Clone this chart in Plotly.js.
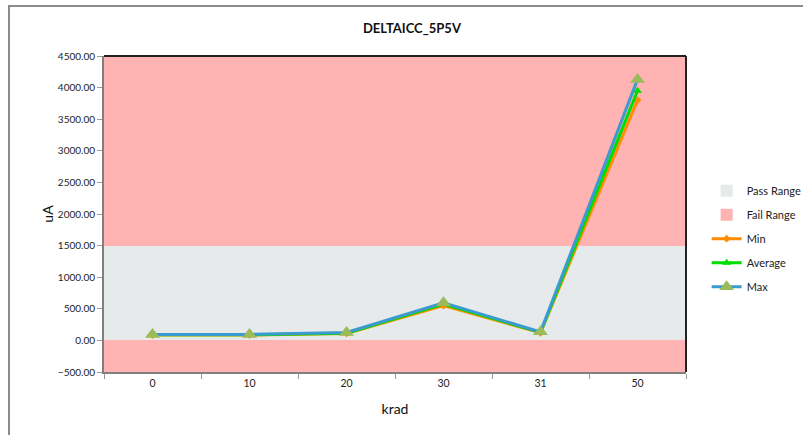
<!DOCTYPE html>
<html>
<head>
<meta charset="utf-8">
<script src="https://cdn.plot.ly/plotly-3.0.1.min.js"></script>
<style>
  html, body { margin: 0; padding: 0; background: #fff; }
  #wrap { position: relative; width: 803px; height: 435px; overflow: hidden; }
  #frame { position: absolute; left: 8px; top: 5px; width: 800px; height: 440px;
           border-top: 2px solid #8c8c8c; border-left: 2px solid #8c8c8c; pointer-events: none; z-index: 5; }
  #chart { position: absolute; left: 0; top: 0; width: 803px; height: 435px; }
</style>
</head>
<body>
<div id="wrap">
  <div id="chart"></div>
  <div id="frame"></div>
</div>
<script>
// Data
const categories = ['0', '10', '20', '30', '31', '50'];
const minValues = [85, 85, 110, 550, 120, 3800];
const avgValues = [90, 90, 115, 575, 125, 3950];
const maxValues = [95, 95, 125, 595, 135, 4130];

// Limit bands
const passLow = 0, passHigh = 1500;
const failLowBase = -500, failLowTop = 0;
const failHighBase = 1500, failHighTop = 4500;

const font = 'Lato, "Open Sans", "Liberation Sans", sans-serif';

function band(name, base, top, color, showlegend) {
  return {
    type: 'bar', name: name, x: categories,
    y: categories.map(() => top - base),
    base: categories.map(() => base),
    width: categories.map(() => 1),
    marker: { color: color, line: { width: 0 } },
    legendgroup: name, showlegend: showlegend, hoverinfo: 'skip'
  };
}

const traces = [
  band('Pass Range', passLow, passHigh, '#E6EAEA', true),
  band('Fail Range', failHighBase, failHighTop, '#FFB3B3', true),
  band('Fail Range', failLowBase, failLowTop, '#FFB3B3', false),
  { type: 'scatter', mode: 'lines+markers', name: 'Min', x: categories, y: minValues, legendgroup: 'min',
    line: { color: '#FF8C00', width: 3 }, marker: { symbol: 'diamond', size: 6, color: '#FF8C00' } },
  { type: 'scatter', mode: 'lines+markers', name: 'Average', x: categories, y: avgValues, legendgroup: 'avg',
    line: { color: '#00DD00', width: 3 }, marker: { symbol: 'triangle-up', size: 8, color: '#00DD00' } },
  { type: 'scatter', mode: 'lines+markers', name: 'Max', x: categories, y: maxValues, legendgroup: 'max',
    line: { color: '#3C9AD0', width: 3 }, marker: { symbol: 'triangle-up', size: 13, color: '#9BBB59' } }
];

const layout = {
  width: 803, height: 435,
  margin: { l: 104, r: 117, t: 56, b: 63 },
  paper_bgcolor: '#ffffff', plot_bgcolor: '#ffffff',
  font: { family: font, size: 11, color: '#222' },
  barmode: 'overlay', bargap: 0,
  title: { text: '<b>DELTAICC_5P5V</b>', x: 0.513, xanchor: 'center', y: 0.935, yanchor: 'middle',
           font: { family: font, size: 13, color: '#111' } },
  xaxis: {
    type: 'category', range: [-0.5, 5.5],
    title: { text: 'krad', font: { family: font, size: 14, color: '#111' }, standoff: 17 },
    showline: true, linecolor: '#7f7f7f', linewidth: 2,
    ticks: 'outside', tickson: 'boundaries', ticklen: 5, tickcolor: '#9a9a9a', tickwidth: 1,
    showgrid: false, zeroline: false, tickfont: { size: 10.5, color: '#222' }
  },
  yaxis: {
    range: [-500, 4500], dtick: 500, tick0: 0, tickformat: '.2f',
    title: { text: 'uA', font: { family: font, size: 14, color: '#111' }, standoff: 1 },
    showline: true, linecolor: '#7f7f7f', linewidth: 2,
    ticks: 'outside', ticklen: 5, tickcolor: '#9a9a9a', tickwidth: 1,
    showgrid: false, zeroline: false, tickfont: { size: 10, color: '#222' }
  },
  shapes: [
    { type: 'line', xref: 'paper', yref: 'paper', x0: 0, x1: 1, y0: 1, y1: 1, line: { color: '#222', width: 2 } },
    { type: 'line', xref: 'paper', yref: 'paper', x0: 1, x1: 1, y0: 0, y1: 1, line: { color: '#222', width: 2 } }
  ],
  legend: {
    xref: 'container', yref: 'container',
    x: 0.88, xanchor: 'left', y: 0.595, yanchor: 'top',
    font: { family: font, size: 11, color: '#222' },
    bgcolor: 'rgba(0,0,0,0)', tracegroupgap: 5, itemwidth: 30,
    traceorder: 'grouped'
  },
  showlegend: true
};

Plotly.newPlot('chart', traces, layout, { displayModeBar: false, staticPlot: true });
</script>
</body>
</html>
